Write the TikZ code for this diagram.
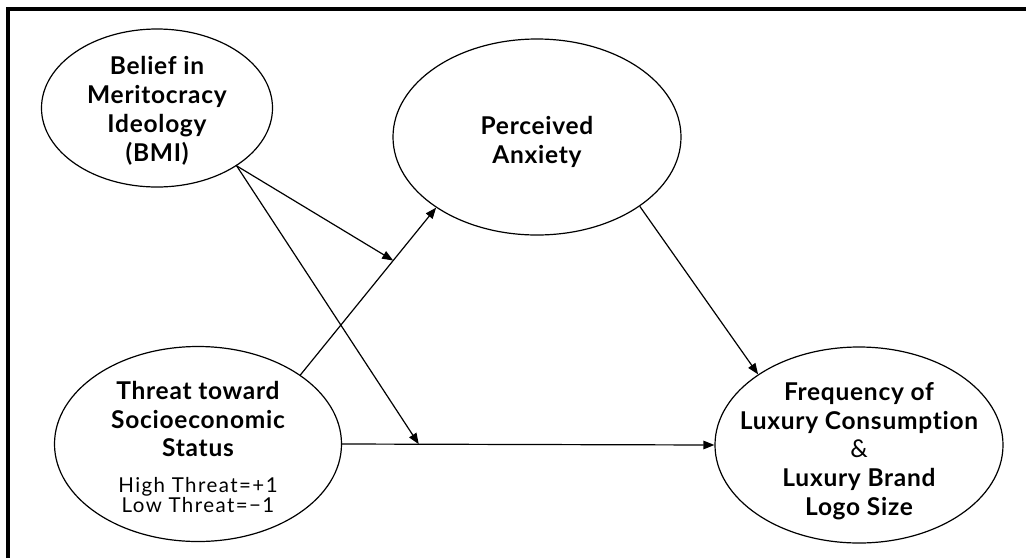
\documentclass[tikz,border=0pt]{standalone}
\usepackage{fontspec}
\setmainfont[Ligatures=NoCommon]{Lato}
\usetikzlibrary{arrows.meta,shapes.geometric}
\begin{document}
\begin{tikzpicture}[x=1pt,y=-1pt,
  ell/.style={draw,ellipse,line width=1.2pt,inner sep=0pt},
  txt/.style={align=center,inner sep=0pt,font=\fontsize{24.5}{28.8}\selectfont\bfseries\addfontfeature{LetterSpace=3}},
  small/.style={align=center,inner sep=0pt,font=\fontsize{20.5}{19.6}\selectfont\addfontfeature{LetterSpace=7}},
  arr/.style={line width=1.2pt,-{Triangle[length=11pt,width=8.5pt]}},
  ln/.style={line width=1.2pt}]
\useasboundingbox (0,0) rectangle (1026,558);
% frame (top and left edges)
\draw[line width=4pt] (8,558) -- (8,9) -- (1026,9);
% ellipses
\node[ell,minimum width=231pt,minimum height=158pt] (b) at (157,108) {};
\node[ell,minimum width=288pt,minimum height=196pt] (p) at (537,137) {};
\node[ell,minimum width=287pt,minimum height=195pt] (t) at (198,444) {};
\node[ell,minimum width=288pt,minimum height=196pt] (o) at (859,445) {};
% texts
\node[txt] (bt) at (157,111) {Belief in\\Meritocracy\\Ideology\\(BMI)};
\node[txt] (pt) at (537,142) {Perceived\\Anxiety};
\node[txt] (tt) at (198,419) {Threat toward\\Socioeconomic\\Status};
\node[small] (ts) at (198,495) {High Threat=+1\\Low Threat=−1};
\node[txt] (ot) at (859,451) {Frequency of\\Luxury Consumption\\{\mdseries\&}\\Luxury Brand\\Logo Size};
% connectors
\path (t.34) -- (p.215) coordinate[pos=0.684] (m1);
\path (t.east) -- (o.west) coordinate[pos=0.206] (m2);
\draw[arr] (t.34) -- (p.215);
\draw[arr] (t.east) -- (o.west);
\draw[arr] (b.-36) -- (m1);
\draw[arr] (b.-36) -- (m2);
\draw[arr] (p.-34.5) -- (o.145.5);
\end{tikzpicture}
\end{document}
